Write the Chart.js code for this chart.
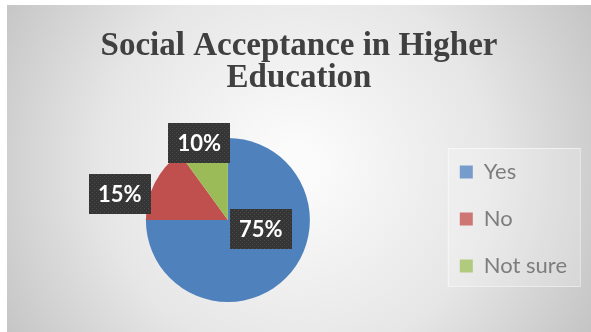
<!DOCTYPE html>
<html>
<head>
<meta charset="utf-8">
<script src="https://cdn.jsdelivr.net/npm/chart.js@4.4.0/dist/chart.umd.min.js"></script>
<style>
  html, body { margin: 0; padding: 0; background: #fff; }
  #wrap { width: 591px; height: 332px; position: relative; }
</style>
</head>
<body>
<div id="wrap"><canvas id="acceptanceChart" width="591" height="332"></canvas></div>
<script>
const categories = ['Yes', 'No', 'Not sure'];
const shares = [75, 15, 10];
const sliceColors = ['#4f81bd', '#c0504d', '#9bbb59'];
const chartTitle = ['Social Acceptance in Higher', 'Education'];

// label box placement, relative to the pie centre in units of radius
const labelShift = [[0.40, 0.11], [-1.32, -0.32], [-0.35, -0.94]];

// gray radial panel behind everything
const panelBackground = {
    id: 'panelBackground',
    beforeDraw(chart) {
        const c = chart.ctx;
        const w = chart.width, h = chart.height;
        c.save();
        c.fillStyle = '#ffffff';
        c.fillRect(0, 0, w, h);
        const g = c.createRadialGradient(w / 2, h / 2, 20, w / 2, h / 2, 340);
        g.addColorStop(0, '#fbfbfb');
        g.addColorStop(0.55, '#e6e6e6');
        g.addColorStop(1, '#c4c4c4');
        c.fillStyle = g;
        c.fillRect(7, 5, w - 7, h - 5);
        c.restore();
    }
};

// faint frame round the legend
const legendFrame = {
    id: 'legendFrame',
    beforeDatasetsDraw(chart) {
        const lg = chart.legend;
        if (!lg || !lg.legendHitBoxes.length) return;
        const first = lg.legendHitBoxes[0];
        const last = lg.legendHitBoxes[lg.legendHitBoxes.length - 1];
        const c = chart.ctx;
        const x0 = first.left - 12, x1 = first.left + 120;
        const y0 = first.top - 13, y1 = last.top + last.height + 9;
        c.save();
        c.fillStyle = 'rgba(255,255,255,0.22)';
        c.fillRect(x0, y0, x1 - x0, y1 - y0);
        c.strokeStyle = 'rgba(255,255,255,0.55)';
        c.lineWidth = 1;
        c.strokeRect(x0 + 0.5, y0 + 0.5, x1 - x0, y1 - y0);
        c.restore();
    }
};

// dark percentage boxes
const sliceLabels = {
    id: 'sliceLabels',
    afterDatasetsDraw(chart) {
        const c = chart.ctx;
        const meta = chart.getDatasetMeta(0);
        const pat = document.createElement('canvas');
        pat.width = 4; pat.height = 4;
        const p = pat.getContext('2d');
        p.fillStyle = '#353535';
        p.fillRect(0, 0, 4, 4);
        p.fillStyle = '#4a4a4a';
        p.fillRect(0, 0, 1, 1);
        p.fillRect(2, 2, 1, 1);
        const total = shares.reduce((a, b) => a + b, 0);
        meta.data.forEach((arc, i) => {
            const r = arc.outerRadius;
            const cx = arc.x + labelShift[i][0] * r;
            const cy = arc.y + labelShift[i][1] * r;
            const bw = 62, bh = 40;
            c.save();
            c.fillStyle = c.createPattern(pat, 'repeat');
            c.fillRect(Math.round(cx - bw / 2), Math.round(cy - bh / 2), bw, bh);
            c.fillStyle = '#ffffff';
            c.font = 'bold 22px Lato';
            c.textAlign = 'center';
            c.textBaseline = 'middle';
            c.fillText(Math.round(shares[i] / total * 100) + '%', cx, cy + 1);
            c.restore();
        });
    }
};

const ctx = document.getElementById('acceptanceChart').getContext('2d');
new Chart(ctx, {
    type: 'pie',
    data: {
        labels: categories,
        datasets: [{
            data: shares,
            backgroundColor: sliceColors,
            borderWidth: 0
        }]
    },
    options: {
        responsive: false,
        animation: false,
        layout: { padding: { left: 21, right: 14, top: 0, bottom: 30 } },
        plugins: {
            tooltip: { enabled: false },
            title: {
                display: true,
                text: chartTitle,
                color: '#404040',
                font: { family: 'Liberation Serif', size: 33, weight: 'bold', lineHeight: 0.97 },
                padding: { top: 30, bottom: 44 }
            },
            legend: {
                position: 'right',
                align: 'end',
                labels: {
                    boxWidth: 13,
                    boxHeight: 13,
                    padding: 25,
                    color: '#595959',
                    font: { family: 'Lato', size: 22 }
                }
            }
        }
    },
    plugins: [panelBackground, legendFrame, sliceLabels]
});
</script>
</body>
</html>
